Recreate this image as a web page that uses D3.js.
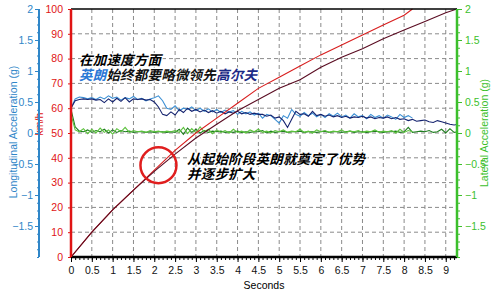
<!DOCTYPE html>
<html>
<head>
<meta charset="utf-8">
<script src="https://cdn.jsdelivr.net/npm/d3@7"></script>
<style>
    body { margin: 0; background: #fff; }
    svg { display: block; }
    text { font-family: "Liberation Sans", Arial, sans-serif; }
    .grid line { stroke: #8a8a8a; stroke-dasharray: 4,3; stroke-width: 1; }
    .note { font-family: "Noto Sans CJK SC", sans-serif; font-style: italic; font-weight: bold; font-size: 13.5px;
            letter-spacing: 0.2px;
            paint-order: stroke; stroke: #fff; stroke-width: 2.5px; stroke-linejoin: round; }
</style>
</head>
<body>
<div id="chart"></div>
<script>

// speed (km/h) — red = 英朗, dark = 高尔夫
const speedTimeA = [0, 0.5, 1, 1.5, 2, 2.5, 3, 3.5, 4, 4.5, 5, 5.5, 6, 6.5, 7, 7.5, 8, 8.2];
const speedA     = [0, 10, 19, 27, 35, 43, 50, 56, 62, 68, 72.5, 77, 81.5, 85.5, 89.5, 93.5, 97.5, 100];

const speedTimeB = [0, 0.5, 1, 1.5, 2, 2.5, 3, 3.5, 4, 4.5, 5, 5.5, 6, 6.5, 7, 7.5, 8, 8.5, 9, 9.27];
const speedB     = [0, 10, 19, 27, 34.5, 41.5, 48, 53.5, 59, 63.5, 68, 71.5, 76.5, 80.5, 84, 88, 91.5, 95, 98.5, 100];

// acceleration samples, one every 0.1 s
const accelStep = 0.1;
const longA = [0.40,0.55,0.58,0.57,0.55,0.57,0.54,0.58,0.55,0.60,0.56,0.58,0.53,0.57,0.55,0.59,0.54,0.56,0.52,0.55,
               0.57,0.60,0.52,0.40,0.38,0.44,0.36,0.40,0.38,0.42,0.36,0.40,0.35,0.39,0.34,0.38,0.33,0.37,0.34,0.36,
               0.30,0.35,0.31,0.34,0.29,0.32,0.24,0.30,0.28,0.22,0.16,0.28,0.24,0.38,0.30,0.27,0.33,0.28,0.32,0.26,
               0.30,0.25,0.31,0.27,0.32,0.26,0.29,0.24,0.31,0.26,0.28,0.23,0.30,0.25,0.28,0.24,0.29,0.26,0.22,0.30,
               0.25,0.28,0.24];
const longB = [0.40,0.52,0.54,0.55,0.54,0.55,0.53,0.54,0.49,0.55,0.50,0.56,0.51,0.57,0.50,0.55,0.54,0.55,0.53,0.54,
               0.50,0.42,0.30,0.28,0.34,0.29,0.38,0.33,0.40,0.35,0.38,0.34,0.37,0.33,0.36,0.32,0.35,0.31,0.34,0.32,
               0.35,0.31,0.33,0.30,0.32,0.30,0.30,0.27,0.29,0.24,0.26,0.20,0.09,0.22,0.35,0.30,0.31,0.27,0.35,0.28,
               0.30,0.27,0.29,0.26,0.28,0.25,0.27,0.24,0.26,0.25,0.27,0.24,0.26,0.23,0.25,0.24,0.26,0.23,0.25,0.22,
               0.23,0.20,0.22,0.19,0.20,0.21,0.18,0.17,0.20,0.18,0.16,0.14,0.13,0.14];
const latA = [0.30,0.05,0.02,0.07,-0.01,0.06,0.00,0.08,0.01,0.05,-0.02,0.07,0.02,0.09,0.01,0.04,0.02,0.03,0.01,0.04,
              0.02,0.03,0.01,0.03,0.02,0.04,0.01,0.09,-0.01,0.07,0.00,0.10,0.02,0.06,-0.01,0.05,0.01,0.04,0.00,0.06,
              0.01,0.03,0.00,0.05,0.02,0.06,0.01,0.03,0.00,0.04,0.02,0.05,0.01,0.03,0.02,0.06,0.01,0.03,0.00,0.05,
              0.02,0.04,0.01,0.03,0.02,0.05,0.01,0.03,0.02,0.04,0.01,0.03,0.02,0.05,0.01,0.03,0.02,0.04,0.00,0.06,
              0.01,0.04,0.02];
const latB = [0.38,0.10,0.03,0.02,0.05,0.01,0.04,0.02,0.06,0.00,0.05,0.01,0.04,0.02,0.03,0.01,0.02,0.02,0.01,0.02,
              0.01,0.02,0.02,0.01,0.02,0.01,0.06,-0.02,0.08,0.01,0.06,0.00,0.04,0.01,0.03,0.02,0.03,0.01,0.02,0.01,
              0.03,0.01,0.02,0.01,0.02,0.02,0.04,0.00,0.03,0.01,0.02,0.03,0.01,0.02,0.02,0.03,0.01,0.02,0.02,0.01,
              0.02,0.03,0.01,0.02,0.02,0.01,0.02,0.03,0.01,0.02,0.02,0.01,0.02,0.03,0.02,0.01,0.02,0.02,0.03,0.01,
              0.02,0.09,0.01,0.02,0.03,0.02,0.04,0.01,0.02,0.06,0.00,0.07,0.01,0.02];

const secondTicks = d3.range(0, 9.01, 0.5);
const speedTicks = [0, 10, 20, 30, 40, 50, 60, 70, 80, 90, 100];
const gTicks = [-1.5, -1, -0.5, 0, 0.5, 1, 1.5, 2];


class AccelChart {

    constructor(_parentElement) {
        this.parentElement = _parentElement;
        this.initVis();
    }

    initVis() {
        let vis = this;

        vis.width = 500;
        vis.height = 295;
        vis.left = 71; vis.right = 457; vis.top = 9; vis.bottom = 257;

        vis.svg = d3.select("#" + vis.parentElement).append("svg")
            .attr("width", vis.width)
            .attr("height", vis.height);

        vis.x = d3.scaleLinear().domain([0, 9.27]).range([vis.left, vis.right]);
        vis.ySpeed = d3.scaleLinear().domain([0, 100]).range([vis.bottom, vis.top]);
        vis.yG = d3.scaleLinear().domain([-2, 2]).range([vis.bottom, vis.top]);

        vis.svg.append("clipPath").attr("id", "plot-clip")
            .append("rect")
            .attr("x", vis.left).attr("y", vis.top - 1)
            .attr("width", vis.right - vis.left).attr("height", vis.bottom - vis.top + 1);

        // grid
        let grid = vis.svg.append("g").attr("class", "grid");
        grid.selectAll(".vg").data(secondTicks.filter(d => d > 0))
            .enter().append("line")
            .attr("x1", d => vis.x(d)).attr("x2", d => vis.x(d))
            .attr("y1", vis.top).attr("y2", vis.bottom);
        grid.selectAll(".hg").data(speedTicks.filter(d => d > 0 && d < 100))
            .enter().append("line")
            .attr("x1", vis.left).attr("x2", vis.right)
            .attr("y1", d => vis.ySpeed(d)).attr("y2", d => vis.ySpeed(d));

        vis.wrangleData();
    }

    wrangleData() {
        let vis = this;
        let toPts = (arr) => arr.map((v, i) => ({ t: i * accelStep, v: v }));

        vis.speedSeries = [
            { pts: speedTimeA.map((t, i) => ({ t: t, v: speedA[i] })), color: "#d81e1e" },
            { pts: speedTimeB.map((t, i) => ({ t: t, v: speedB[i] })), color: "#5a0c22" }
        ];
        vis.gSeries = [
            { pts: toPts(latB), color: "#1d7d1d" },
            { pts: toPts(latA), color: "#5cc23c" },
            { pts: toPts(longA), color: "#3b8fd4" },
            { pts: toPts(longB), color: "#14226e" }
        ];
        vis.updateVis();
    }

    updateVis() {
        let vis = this;

        let plot = vis.svg.append("g").attr("clip-path", "url(#plot-clip)");

        let gLine = d3.line().x(d => vis.x(d.t)).y(d => vis.yG(d.v));
        plot.selectAll(".gline").data(vis.gSeries)
            .enter().append("path")
            .attr("class", "gline")
            .attr("d", d => gLine(d.pts))
            .attr("fill", "none")
            .attr("stroke", d => d.color)
            .attr("stroke-width", 1.1);

        let sLine = d3.line().x(d => vis.x(d.t)).y(d => vis.ySpeed(d.v));
        plot.selectAll(".sline").data(vis.speedSeries)
            .enter().append("path")
            .attr("class", "sline")
            .attr("d", d => sLine(d.pts))
            .attr("fill", "none")
            .attr("stroke", d => d.color)
            .attr("stroke-width", 1.1);

        // top border
        vis.svg.append("line")
            .attr("x1", vis.left).attr("x2", vis.right)
            .attr("y1", vis.top).attr("y2", vis.top)
            .attr("stroke", "#000").attr("stroke-width", 1.5);

        // x axis
        let xMinor = vis.svg.append("g").attr("transform", "translate(0," + vis.bottom + ")")
            .call(d3.axisBottom(vis.x).tickValues(d3.range(0, 9.27, 0.1)).tickSize(3).tickFormat(""));
        xMinor.select(".domain").remove();
        let xAxis = vis.svg.append("g").attr("transform", "translate(0," + vis.bottom + ")")
            .call(d3.axisBottom(vis.x).tickValues(secondTicks).tickSize(5).tickPadding(5).tickFormat(d3.format("")));
        xAxis.select(".domain").attr("d", "M" + vis.left + ",0H" + vis.right).attr("stroke-width", 2.5);
        xAxis.selectAll("text").attr("font-size", "10.5px").attr("fill", "#111");

        vis.svg.append("text")
            .attr("x", 264).attr("y", 289)
            .attr("text-anchor", "middle")
            .attr("font-size", "10.5px")
            .text("Seconds");

        // speed axis (red)
        let yAxis = vis.svg.append("g").attr("transform", "translate(" + vis.left + ",0)")
            .call(d3.axisLeft(vis.ySpeed).tickValues(speedTicks).tickSize(3).tickPadding(5));
        yAxis.select(".domain").attr("d", "M0," + vis.top + "V" + vis.bottom).attr("stroke", "#e01414").attr("stroke-width", 2.5);
        yAxis.selectAll("line").attr("stroke", "#e01414");
        yAxis.selectAll("text").attr("fill", "#e01414").attr("font-size", "10.5px");

        vis.svg.append("text")
            .attr("transform", "translate(43,124) rotate(-90)")
            .attr("text-anchor", "middle")
            .attr("font-size", "10.5px")
            .attr("fill", "#e01414")
            .text("km/h");

        // longitudinal axis (blue)
        let blue = "#2f86c8";
        let bMinor = vis.svg.append("g").attr("transform", "translate(39,0)")
            .call(d3.axisLeft(vis.yG).tickValues(d3.range(-2, 2.01, 0.125)).tickSize(2).tickFormat(""));
        bMinor.select(".domain").remove();
        bMinor.selectAll("line").attr("stroke", blue);
        let bAxis = vis.svg.append("g").attr("transform", "translate(39,0)")
            .call(d3.axisLeft(vis.yG).tickValues(gTicks).tickSize(4).tickPadding(2).tickFormat(d3.format("")));
        bAxis.select(".domain").attr("d", "M0," + vis.top + "V" + vis.bottom).attr("stroke", blue).attr("stroke-width", 2);
        bAxis.selectAll("line").attr("stroke", blue);
        bAxis.selectAll("text").attr("fill", blue).attr("font-size", "10.5px");

        vis.svg.append("text")
            .attr("transform", "translate(17,132) rotate(-90)")
            .attr("text-anchor", "middle")
            .attr("font-size", "10.5px")
            .attr("fill", blue)
            .text("Longitudinal Acceleration (g)");

        // lateral axis (green)
        let green = "#3cbf2c";
        let gMinor = vis.svg.append("g").attr("transform", "translate(" + vis.right + ",0)")
            .call(d3.axisRight(vis.yG).tickValues(d3.range(-2, 2.01, 0.125)).tickSize(3).tickFormat(""));
        gMinor.select(".domain").remove();
        gMinor.selectAll("line").attr("stroke", green);
        let gAxis = vis.svg.append("g").attr("transform", "translate(" + vis.right + ",0)")
            .call(d3.axisRight(vis.yG).tickValues(gTicks).tickSize(5).tickPadding(3).tickFormat(d3.format("")));
        gAxis.select(".domain").attr("d", "M0," + vis.top + "V" + vis.bottom).attr("stroke", green).attr("stroke-width", 2.5);
        gAxis.selectAll("line").attr("stroke", green);
        gAxis.selectAll("text").attr("fill", green).attr("font-size", "10.5px");

        vis.svg.append("text")
            .attr("transform", "translate(488,133) rotate(-90)")
            .attr("text-anchor", "middle")
            .attr("font-size", "10.5px")
            .attr("fill", green)
            .text("Lateral Acceleration (g)");

        // annotations
        vis.svg.append("text").attr("class", "note").attr("x", 79).attr("y", 65).text("在加速度方面");
        let l2 = vis.svg.append("text").attr("class", "note").attr("x", 79).attr("y", 80);
        l2.append("tspan").attr("fill", "#2a78d6").text("英朗");
        l2.append("tspan").attr("fill", "#111").text("始终都要略微领先");
        l2.append("tspan").attr("fill", "#1c2a86").text("高尔夫");

        vis.svg.append("text").attr("class", "note").attr("x", 187).attr("y", 164).text("从起始阶段英朗就奠定了优势");
        vis.svg.append("text").attr("class", "note").attr("x", 187).attr("y", 179).text("并逐步扩大");

        vis.svg.append("circle")
            .attr("cx", vis.x(2.1)).attr("cy", vis.ySpeed(37))
            .attr("r", 18)
            .attr("fill", "none")
            .attr("stroke", "#e01e1e")
            .attr("stroke-width", 2.5);
    }
}

let chart = new AccelChart("chart");
</script>
</body>
</html>
